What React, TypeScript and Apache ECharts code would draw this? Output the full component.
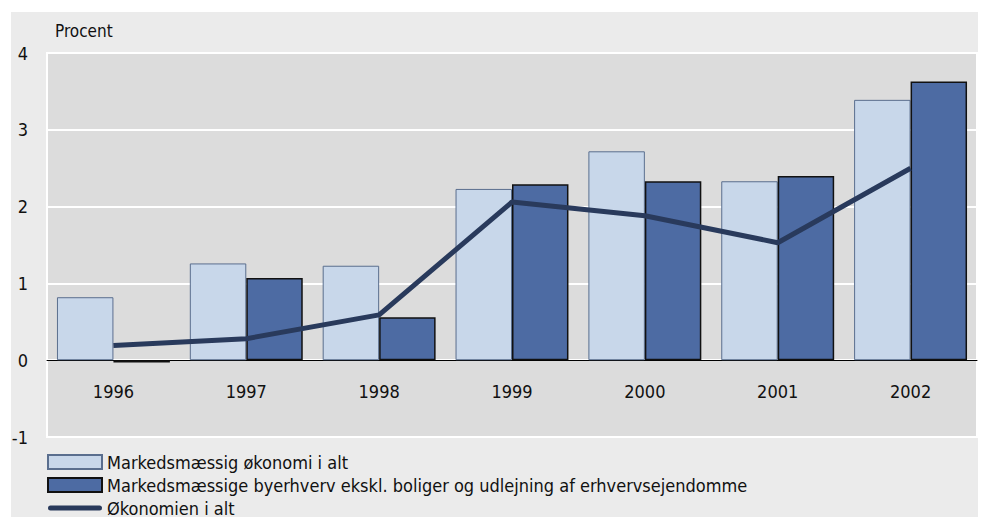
import React, { useEffect, useRef } from "react";
import * as echarts from "echarts";

const years = ["1996", "1997", "1998", "1999", "2000", "2001", "2002"];
const markedsOekonomi = [0.82, 1.26, 1.23, 2.23, 2.72, 2.33, 3.39];
const byerhverv = [-0.03, 1.07, 0.56, 2.29, 2.33, 2.40, 3.63];
const oekonomienIAlt = [0.19, 0.28, 0.59, 2.06, 1.88, 1.53, 2.5];
const seriesNames = [
  "Markedsmæssig økonomi i alt",
  "Markedsmæssige byerhverv ekskl. boliger og udlejning af erhvervsejendomme",
  "Økonomien i alt",
];

const FONT = "'DejaVu Sans Condensed', 'Liberation Sans Narrow', 'Liberation Sans', sans-serif";
const PLOT_H = 384;
const Y_MIN = -1;
const Y_MAX = 4;

export default function App() {
  const ref = useRef<HTMLDivElement>(null);
  useEffect(() => {
    if (!ref.current) return;
    const chart = echarts.init(ref.current, undefined, { renderer: "svg" });
    chart.setOption({
      animation: false,
      backgroundColor: "#ffffff",
      textStyle: { fontFamily: FONT },
      graphic: [
        {
          type: "rect",
          z: -10,
          silent: true,
          shape: { x: 11, y: 12, width: 967, height: 510 },
          style: { fill: "#ebebeb" },
        },
        {
          type: "text",
          left: 55,
          top: 22,
          style: { text: "Procent", fill: "#111", font: `17px ${FONT}` },
        },
      ],
      grid: {
        left: 47,
        right: 4,
        top: 53,
        height: PLOT_H,
        show: true,
        backgroundColor: "#dcdcdc",
        borderColor: "#ffffff",
        borderWidth: 2,
      },
      legend: {
        orient: "vertical",
        left: 47,
        top: 453,
        height: 80,
        padding: 0,
        itemWidth: 54,
        itemHeight: 14,
        itemGap: 5,
        textStyle: { fontFamily: FONT, fontSize: 18, lineHeight: 18, color: "#111" },
        data: [
          { name: seriesNames[0], icon: "rect" },
          { name: seriesNames[1], icon: "rect" },
          {
            name: seriesNames[2],
            icon: "path://M2.5,0 L51.5,0 Q54,0 54,2.5 Q54,5 51.5,5 L2.5,5 Q0,5 0,2.5 Q0,0 2.5,0 Z",
            itemStyle: { color: "#293a5c", borderWidth: 0 },
          },
        ],
      },
      xAxis: {
        type: "category",
        data: years,
        offset: -(PLOT_H * (0 - Y_MIN)) / (Y_MAX - Y_MIN),
        axisTick: { show: false },
        axisLine: { onZero: false, lineStyle: { color: "#000", width: 1 } },
        axisLabel: { margin: 22, fontSize: 18, color: "#111", fontFamily: FONT },
      },
      yAxis: {
        type: "value",
        min: Y_MIN,
        max: Y_MAX,
        interval: 1,
        axisLine: { show: false },
        axisTick: { show: false },
        axisLabel: { margin: 19, fontSize: 18, color: "#111", fontFamily: FONT },
        splitLine: { show: true, lineStyle: { color: "#ffffff", width: 2 } },
      },
      series: [
        {
          name: seriesNames[0],
          type: "bar",
          data: markedsOekonomi,
          barGap: "0%",
          barCategoryGap: "15%",
          itemStyle: { color: "#c8d7ea", borderColor: "#5a6e8e", borderWidth: 1 },
        },
        {
          name: seriesNames[1],
          type: "bar",
          data: byerhverv,
          barGap: "0%",
          barCategoryGap: "15%",
          itemStyle: { color: "#4d6ba3", borderColor: "#111111", borderWidth: 1.5 },
        },
        {
          name: seriesNames[2],
          type: "line",
          data: oekonomienIAlt,
          symbol: "none",
          z: 5,
          lineStyle: { color: "#293a5c", width: 5 },
          itemStyle: { color: "#293a5c" },
        },
      ],
    });
    return () => chart.dispose();
  }, []);
  return (
    <div
      ref={ref}
      style={{ position: "fixed", left: 0, top: 0, width: 981, height: 517 }}
    />
  );
}
